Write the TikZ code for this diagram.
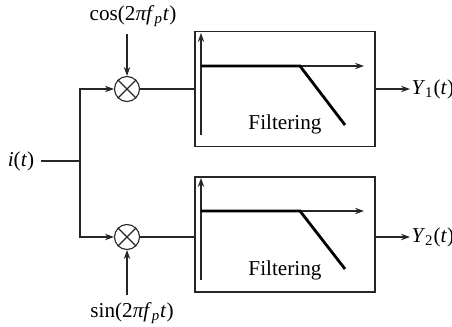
\documentclass[tikz,border=0pt]{standalone}
\usepackage{fontspec}
\setmainfont{Liberation Serif}
\usetikzlibrary{arrows.meta}
\begin{document}
\begin{tikzpicture}[x=0.5pt,y=-0.5pt,
  font=\fontsize{10.6}{12}\selectfont,
  line width=0.55pt, draw={black!85},
  arr/.style={-{Stealth[length=4.5pt,width=3.2pt]}},
  mixer/.style={circle,draw,minimum size=12.5pt,inner sep=0pt},
  fbox/.style={rectangle,draw,line width=0.65pt,minimum width=90pt,minimum height=57.5pt,inner sep=0pt},
  resp/.style={line width=1.4pt,black}]
\useasboundingbox (0,0) rectangle (452,327);
% input
\node (in) at (21,161) {\textit{i}(\textit{t})};
\coordinate (sp) at (80,161);
\coordinate (sp1) at (80,89);
\coordinate (sp2) at (80,237);
% mixers
\node[mixer] (m1) at (127,89) {};
\node[mixer] (m2) at (127,237) {};
\draw (m1.north west) -- (m1.south east) (m1.north east) -- (m1.south west);
\draw (m2.north west) -- (m2.south east) (m2.north east) -- (m2.south west);
% carrier labels
\node (c1) at (133,16) {cos(2\textit{πf}\textsubscript{\textit{p}}\textit{t})};
\node (s1) at (132,313) {sin(2\textit{πf}\textsubscript{\textit{p}}\textit{t})};
\draw[arr] (c1.south -| m1) -- (m1.north);
\draw[arr] (s1.north -| m2) -- (m2.south);
% branches
\draw (in.east) -- (sp);
\draw[arr] (sp) -- (sp1) -- (m1.west);
\draw[arr] (sp) -- (sp2) -- (m2.west);
% filter boxes
\node[fbox] (f1) at (285,89) {};
\node[fbox] (f2) at (285,234.5) {};
\draw (m1.east) -- (m1.east -| f1.west);
\draw (m2.east) -- (m2.east -| f2.west);
% inner plots box 1
\draw[arr] (201,135) -- (201,33);
\draw[arr] (201,66) -- (364,66);
\draw[resp] (201,66) -- (300,66) -- (345,125);
\node at (285,124) {Filtering};
% inner plots box 2
\draw[arr] (201,280) -- (201,178);
\draw[arr] (201,211) -- (364,211);
\draw[resp] (201,211) -- (300,211) -- (345,269);
\node at (285,270) {Filtering};
% outputs
\node[anchor=west,inner sep=0.5pt] (y1) at (410,89) {\textit{Y}\textsubscript{1}(\textit{t})};
\node[anchor=west,inner sep=0.5pt] (y2) at (410,237) {\textit{Y}\textsubscript{2}(\textit{t})};
\draw[arr] (f1.east |- m1) -- (y1.west);
\draw[arr] (f2.east |- m2) -- (y2.west);
\end{tikzpicture}
\end{document}
